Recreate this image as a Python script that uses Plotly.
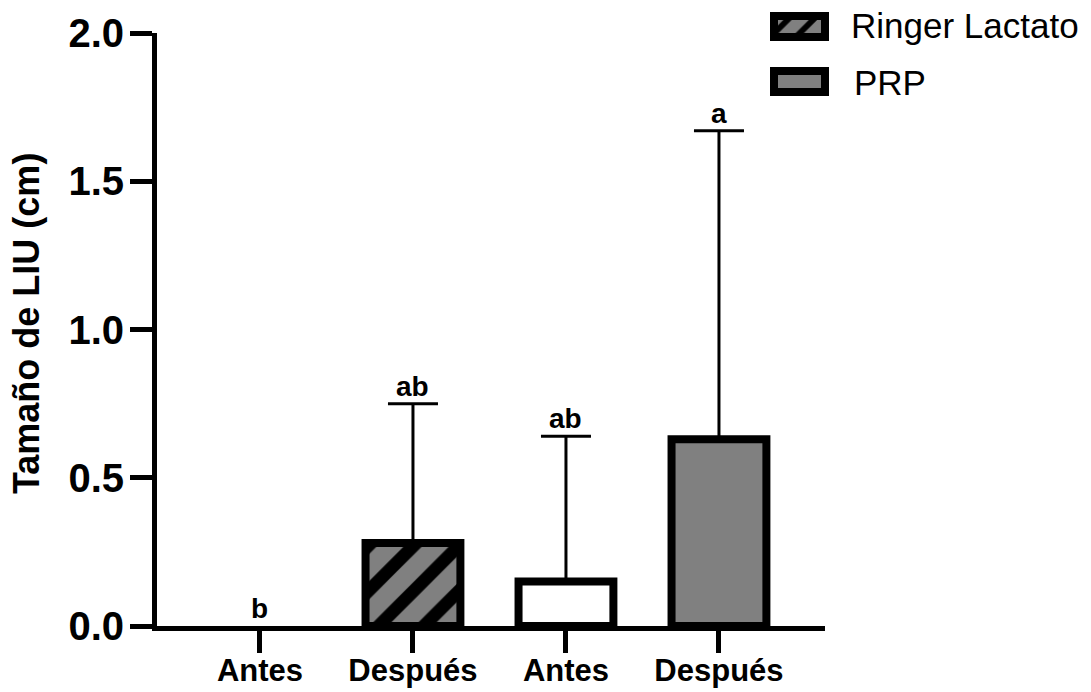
import plotly.graph_objects as go

# ---- data ----
tick_labels = ["Antes", "Después", "Antes", "Después"]
groups = ["Ringer Lactato", "Ringer Lactato", "PRP", "PRP"]
means = [0.0, 0.28, 0.15, 0.63]
sds = [0.0, 0.47, 0.49, 1.04]
letters = ["b", "ab", "ab", "a"]
fill_colors = ["white", "#808080", "white", "#808080"]
hatched = [False, True, False, False]
legend_names = ["Ringer Lactato", "PRP"]
legend_hatched = [True, False]
legend_colors = ["#808080", "#808080"]
y_ticks = [0.0, 0.5, 1.0, 1.5, 2.0]

FONT = "Liberation Sans, Arial, sans-serif"
W, H = 1091, 692
ML, MR, MT, MB = 157, 0, 0, 66
PW, PH = W - ML - MR, H - MT - MB

xpos = list(range(len(tick_labels)))
BAR_W = 0.62

fig = go.Figure()

# solid bars with thick black outline
fig.add_trace(go.Bar(
    x=xpos, y=means, width=BAR_W,
    marker=dict(color=fill_colors,
                line=dict(color="black", width=[0 if m == 0 else 8 for m in means])),
    showlegend=False, hoverinfo="skip",
))

# black diagonal hatching laid over the hatched bars
h_idx = [i for i, h in enumerate(hatched) if h]
fig.add_trace(go.Bar(
    x=[xpos[i] for i in h_idx], y=[means[i] for i in h_idx], width=BAR_W,
    marker=dict(color="black", line=dict(width=0),
                pattern=dict(shape="/", size=32, solidity=0.4, fillmode="replace")),
    showlegend=False, hoverinfo="skip",
))

# upper error bars (only where an SD exists)
err_idx = [i for i, s in enumerate(sds) if s > 0]
fig.add_trace(go.Scatter(
    x=[xpos[i] for i in err_idx], y=[means[i] for i in err_idx], mode="markers",
    marker=dict(size=1, opacity=0),
    error_y=dict(type="data", array=[sds[i] for i in err_idx],
                 arrayminus=[0] * len(err_idx), symmetric=False,
                 color="black", thickness=3, width=25),
    showlegend=False, hoverinfo="skip",
))

# legend swatches (drawn as bars on a hidden helper axis)
leg_pos = list(range(len(legend_names)))
fig.add_trace(go.Bar(
    y=leg_pos, x=[1] * len(legend_names), base=0,
    orientation="h", width=0.382, xaxis="x2", yaxis="y2",
    marker=dict(color=legend_colors, line=dict(color="black", width=8)),
    cliponaxis=False, showlegend=False, hoverinfo="skip",
))
lh_idx = [i for i, h in enumerate(legend_hatched) if h]
fig.add_trace(go.Bar(
    y=[leg_pos[i] for i in lh_idx], x=[1] * len(lh_idx), base=0,
    orientation="h", width=0.382, xaxis="x2", yaxis="y2",
    marker=dict(color="black", line=dict(width=0),
                pattern=dict(shape="/", size=18, solidity=0.32, fillmode="replace")),
    cliponaxis=False, showlegend=False, hoverinfo="skip",
))

annotations = []
for i, (m, s, t) in enumerate(zip(means, sds, letters)):
    annotations.append(dict(x=i, y=m + s, xref="x", yref="y", text=t, showarrow=False,
                            yanchor="bottom", xanchor="center", yshift=0,
                            font=dict(family=FONT, size=28, color="black", weight="bold")))

# legend labels
leg_y_px = [25.5, 82.5]
leg_x_px = [849, 852]
for name, yp, xp in zip(legend_names, leg_y_px, leg_x_px):
    annotations.append(dict(x=(xp - ML) / PW, y=(PH - yp) / PH, xref="paper", yref="paper",
                            text=name, showarrow=False, xanchor="left", yanchor="middle",
                            font=dict(family=FONT, size=35, color="black")))

# y axis title
annotations.append(dict(x=(26 - ML) / PW, y=(PH - 324) / PH, xref="paper", yref="paper",
                        text="Tamaño de LIU (cm)", showarrow=False, textangle=-90,
                        xanchor="center", yanchor="middle",
                        font=dict(family=FONT, size=36, color="black", weight="bold")))

fig.update_layout(
    width=W, height=H,
    margin=dict(l=ML, r=MR, t=MT, b=MB, pad=0, autoexpand=False),
    paper_bgcolor="white", plot_bgcolor="white",
    font=dict(family=FONT, color="black"),
    barmode="overlay",
    annotations=annotations,
    xaxis=dict(domain=[0, (825 - ML) / PW], range=[-0.673, 3.693],
               tickvals=xpos, ticktext=tick_labels, automargin=False,
               showline=True, linewidth=5, linecolor="black",
               ticks="outside", ticklen=22, tickwidth=5, tickcolor="black",
               ticklabelstandoff=-9,
               tickfont=dict(family=FONT, size=31, color="black", weight="bold"),
               showgrid=False, zeroline=False, fixedrange=True),
    yaxis=dict(domain=[0, (PH - 33) / PH], range=[0, 2.0],
               tickvals=y_ticks, ticktext=[f"{v:.1f}" for v in y_ticks], automargin=False,
               showline=True, linewidth=5, linecolor="black",
               ticks="outside", ticklen=22, tickwidth=5, tickcolor="black",
               ticklabelstandoff=-2,
               tickfont=dict(family=FONT, size=40, color="black", weight="bold"),
               showgrid=False, zeroline=False, fixedrange=True),
    xaxis2=dict(domain=[(770 - ML) / PW, (829 - ML) / PW], range=[-4 / 51, 1 + 4 / 51],
                anchor="y2", visible=False, fixedrange=True),
    yaxis2=dict(domain=[(PH - 96) / PH, (PH - 12) / PH], range=[1.2636, -0.2636],
                anchor="x2", visible=False, fixedrange=True),
)

fig.write_html("out.html")
